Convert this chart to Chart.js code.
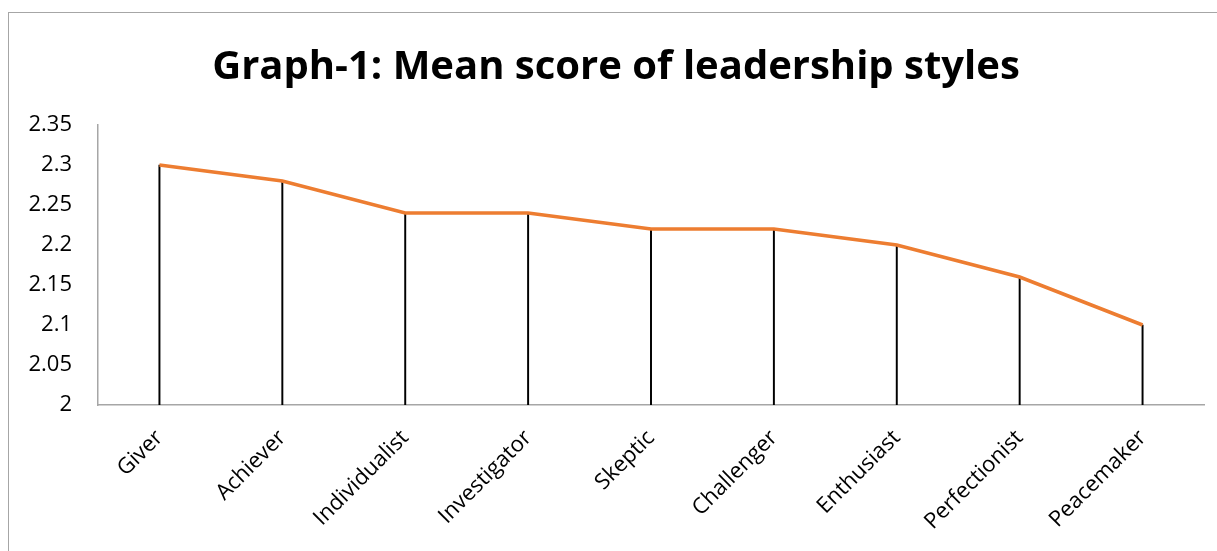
<!DOCTYPE html>
<html>
<head>
<meta charset="utf-8">
<script src="https://cdn.jsdelivr.net/npm/chart.js@4.4.0/dist/chart.umd.min.js"></script>
<style>
  html, body { margin: 0; padding: 0; background: #fff; overflow: hidden; }
  #wrap { position: relative; width: 1217px; height: 551px; }
  #frame { position: absolute; left: 8px; top: 12px; width: 1300px; height: 700px; border: 1.5px solid #a6a6a6; box-sizing: border-box; }
  canvas { position: absolute; left: 0; top: 0; }
</style>
</head>
<body>
<div id="wrap">
  <div id="frame"></div>
  <canvas id="meanChart" width="1217" height="551"></canvas>
</div>
<script>
// datos
const estilos = ["Giver", "Achiever", "Individualist", "Investigator", "Skeptic", "Challenger", "Enthusiast", "Perfectionist", "Peacemaker"];
const medias = [2.3, 2.28, 2.24, 2.24, 2.22, 2.22, 2.2, 2.16, 2.1];
const yTicks = [2, 2.05, 2.1, 2.15, 2.2, 2.25, 2.3, 2.35];
const titulo = "Graph-1: Mean score of leadership styles";

const fuente = "'Open Sans', 'Noto Sans', sans-serif";

function createMeanChart() {
    const ctx = document.getElementById("meanChart").getContext("2d");
    new Chart(ctx, {
        data: {
            labels: estilos,
            datasets: [
                {
                    type: "line",
                    label: "Mean",
                    data: medias,
                    borderColor: "#ED7D31",
                    borderWidth: 3.5,
                    pointRadius: 0,
                    tension: 0,
                    order: 1
                },
                {
                    // líneas verticales hasta el eje
                    type: "bar",
                    label: "drop",
                    data: medias,
                    backgroundColor: "#000000",
                    barThickness: 1.3,
                    order: 2
                }
            ]
        },
        options: {
            responsive: false,
            animation: false,
            layout: { padding: { left: 28, right: 13, top: 0, bottom: 0 } },
            plugins: {
                legend: { display: false },
                tooltip: { enabled: false },
                title: {
                    display: true,
                    text: titulo,
                    color: "#000",
                    font: { family: fuente, size: 40, weight: "bold", lineHeight: 1.2 },
                    padding: { top: 44, bottom: 33 }
                }
            },
            scales: {
                x: {
                    offset: true,
                    grid: { display: false },
                    border: { display: true, color: "#a6a6a6", width: 1.5 },
                    ticks: {
                        color: "#000",
                        font: { family: fuente, size: 22 },
                        maxRotation: 45,
                        minRotation: 45,
                        padding: 12
                    },
                    afterFit(scale) { scale.height = 146; }
                },
                y: {
                    min: 2,
                    max: 2.35,
                    grid: { display: false },
                    border: { display: true, color: "#a6a6a6", width: 1.5 },
                    afterBuildTicks(scale) { scale.ticks = yTicks.map(v => ({ value: v })); },
                    ticks: {
                        color: "#000",
                        font: { family: fuente, size: 22 },
                        padding: 18,
                        callback: v => String(+v.toFixed(2))
                    },
                    afterFit(scale) { scale.width = 70; }
                }
            }
        }
    });
}

document.addEventListener("DOMContentLoaded", createMeanChart);
</script>
</body>
</html>
